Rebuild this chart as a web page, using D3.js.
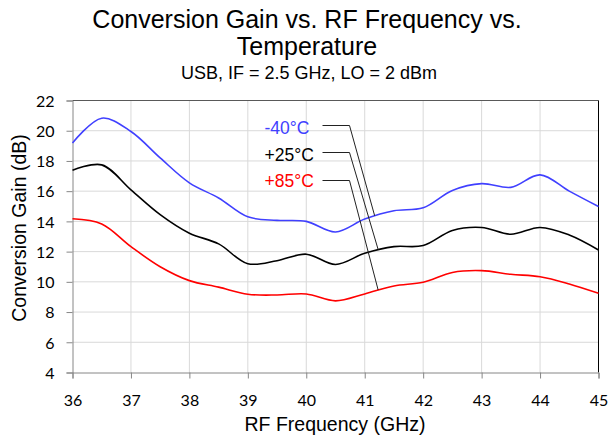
<!DOCTYPE html>
<html>
<head>
<meta charset="utf-8">
<script src="https://cdn.jsdelivr.net/npm/d3@7"></script>
<style>
  html, body { margin: 0; padding: 0; background: #fff; }
  svg { display: block; }
</style>
</head>
<body>
<svg id="chart" width="609" height="438"></svg>
<script>
// ---- data ----
const freq = [36, 36.5, 37, 37.5, 38, 38.5, 39, 39.5, 40, 40.5, 41, 41.5, 42, 42.5, 43, 43.5, 44, 44.5, 45];
const gainM40 = [19.18, 20.83, 19.95, 18.2, 16.55, 15.55, 14.3, 14.07, 14.0, 13.3, 14.15, 14.7, 14.9, 16.05, 16.5, 16.25, 17.08, 16.0, 14.98];
const gainP25 = [17.39, 17.74, 16.09, 14.45, 13.22, 12.51, 11.2, 11.4, 11.83, 11.15, 11.89, 12.33, 12.4, 13.4, 13.6, 13.15, 13.6, 13.1, 12.11];
const gainP85 = [14.17, 13.83, 12.33, 11.0, 10.08, 9.65, 9.18, 9.13, 9.2, 8.74, 9.2, 9.73, 9.97, 10.62, 10.74, 10.5, 10.34, 9.86, 9.24];
const seriesNames = ["-40°C", "+25°C", "+85°C"];
const labelTargetFreq = [41.17, 41.23, 41.23];
const xTicks = [36, 37, 38, 39, 40, 41, 42, 43, 44, 45];
const yTicks = [4, 6, 8, 10, 12, 14, 16, 18, 20, 22];
const titleLines = ["Conversion Gain vs. RF Frequency vs.", "Temperature"];
const subtitle = "USB, IF = 2.5 GHz, LO = 2 dBm";
const xTitle = "RF Frequency (GHz)";
const yTitle = "Conversion Gain (dB)";

// ---- layout ----
const colors = ["#4040ff", "#000000", "#ff0000"];
const series = [gainM40, gainP25, gainP85];
const svg = d3.select("#chart");
const X0 = 72.5, X1 = 598.5, Y0 = 100.5, Y1 = 372.5;
const x = d3.scaleLinear().domain([36, 45]).range([X0, X1]);
const y = d3.scaleLinear().domain([4, 22]).range([Y1, Y0]);
const fontMain = "'Liberation Sans', Arial, sans-serif";
const fontTick = "Lato, 'Noto Sans', sans-serif";

svg.append("rect").attr("width", 609).attr("height", 438).attr("fill", "#fff");

// gridlines
svg.append("g").selectAll("line.h").data(yTicks.filter(t => t !== 4 && t !== 22)).join("line")
  .attr("x1", X0).attr("x2", X1).attr("y1", d => y(d)).attr("y2", d => y(d))
  .attr("stroke", "#d9d9d9").attr("stroke-width", 1);
svg.append("g").selectAll("line.v").data(xTicks.filter(t => t !== 36 && t !== 45)).join("line")
  .attr("x1", d => x(d)).attr("x2", d => x(d)).attr("y1", Y0).attr("y2", Y1)
  .attr("stroke", "#d9d9d9").attr("stroke-width", 1);

// borders
svg.append("line").attr("x1", X0).attr("x2", X1).attr("y1", Y0).attr("y2", Y0).attr("stroke", "#595959");
svg.append("line").attr("x1", X1).attr("x2", X1).attr("y1", Y0).attr("y2", Y1).attr("stroke", "#000");

// axes
const yAxis = d3.axisLeft(y).tickValues(yTicks).tickSize(6).tickPadding(12).tickFormat(d3.format("d"));
const gy = svg.append("g").attr("transform", `translate(${X0},0)`).call(yAxis);
const xAxis = d3.axisBottom(x).tickValues(xTicks).tickSize(6).tickPadding(16).tickFormat(d3.format("d"));
const gx = svg.append("g").attr("transform", `translate(0,${Y1})`).call(xAxis);
[gx, gy].forEach(g => {
  g.select(".domain").attr("stroke", "#868686");
  g.selectAll(".tick line").attr("stroke", "#868686");
  g.selectAll(".tick text").attr("fill", "#000").style("font-family", fontTick).style("font-size", "16px");
});
gy.selectAll(".tick text").attr("dy", "0.36em");

// lines
const line = d3.line().x((d, i) => x(freq[i])).y(d => y(d)).curve(d3.curveCatmullRom.alpha(0.5));
const paths = series.map((s, k) =>
  svg.append("path").datum(s).attr("d", line).attr("fill", "none")
    .attr("stroke", colors[k]).attr("stroke-width", 1.6).node());

function pointAtX(pathNode, xt) {
  let lo = 0, hi = pathNode.getTotalLength();
  for (let i = 0; i < 40; i++) {
    const mid = (lo + hi) / 2;
    if (pathNode.getPointAtLength(mid).x < xt) lo = mid; else hi = mid;
  }
  return pathNode.getPointAtLength((lo + hi) / 2);
}

// labels with leader lines
const labelBase = [134, 160.5, 187];
const lineY = [125.5, 152.5, 180.5];
seriesNames.forEach((name, k) => {
  svg.append("text").attr("x", 264.5).attr("y", labelBase[k]).text(name)
    .attr("fill", colors[k]).style("font-family", fontMain).style("font-size", "17.5px");
  const p = pointAtX(paths[k], x(labelTargetFreq[k]));
  svg.append("polyline")
    .attr("points", `322.5,${lineY[k]} 349.5,${lineY[k]} ${p.x},${p.y}`)
    .attr("fill", "none").attr("stroke", "#222").attr("stroke-width", 1);
});

// titles
titleLines.forEach((t, i) => {
  svg.append("text").attr("x", 307).attr("y", 27.5 + i * 27.7).attr("text-anchor", "middle")
    .style("font-family", fontMain).style("font-size", "25px").attr("fill", "#000").text(t);
});
svg.append("text").attr("x", 309).attr("y", 79).attr("text-anchor", "middle")
  .style("font-family", fontMain).style("font-size", "18px").attr("fill", "#000").text(subtitle);
svg.append("text").attr("x", 335).attr("y", 430.5).attr("text-anchor", "middle")
  .style("font-family", fontMain).style("font-size", "19.5px").attr("fill", "#000").text(xTitle);
svg.append("text").attr("transform", "translate(26,228) rotate(-90)").attr("text-anchor", "middle")
  .style("font-family", fontMain).style("font-size", "19.5px").attr("fill", "#000").text(yTitle);
</script>
</body>
</html>
